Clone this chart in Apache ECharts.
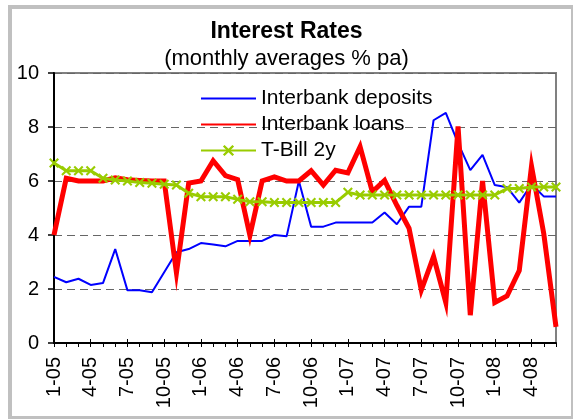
<!DOCTYPE html>
<html>
<head>
<meta charset="utf-8">
<title>Interest Rates</title>
<script src="https://cdn.jsdelivr.net/npm/echarts@6/dist/echarts.min.js"></script>
<style>
  html, body { margin: 0; padding: 0; background: #ffffff; }
  #chart { width: 573px; height: 419px; }
</style>
</head>
<body>
<div id="chart"></div>
<script>
// Monthly periods, January 2005 to June 2008
const months = [
  '1-05','2-05','3-05','4-05','5-05','6-05','7-05','8-05','9-05','10-05','11-05','12-05',
  '1-06','2-06','3-06','4-06','5-06','6-06','7-06','8-06','9-06','10-06','11-06','12-06',
  '1-07','2-07','3-07','4-07','5-07','6-07','7-07','8-07','9-07','10-07','11-07','12-07',
  '1-08','2-08','3-08','4-08','5-08','6-08'
];

// Monthly averages, % per annum
const interbankDeposits = [
  2.45, 2.25, 2.38, 2.15, 2.22, 3.48, 1.95, 1.95, 1.88, 2.62, 3.36, 3.48,
  3.70, 3.65, 3.58, 3.78, 3.78, 3.78, 4.00, 3.95, 6.00, 4.31, 4.31, 4.46,
  4.46, 4.46, 4.46, 4.83, 4.40, 5.05, 5.05, 8.25, 8.52, 7.40, 6.40, 6.97,
  5.85, 5.77, 5.20, 5.88, 5.43, 5.43
];

const interbankLoans = [
  4.00, 6.10, 6.00, 6.00, 6.00, 6.12, 6.05, 6.02, 6.00, 6.00, 2.60, 5.92,
  6.00, 6.75, 6.20, 6.05, 3.98, 6.00, 6.15, 6.00, 6.00, 6.38, 5.85, 6.40,
  6.30, 7.27, 5.60, 6.02, 5.10, 4.25, 1.96, 3.20, 1.50, 8.02, 1.03, 6.00,
  1.50, 1.74, 2.68, 6.55, 4.05, 0.60
];

const tBill2y = [
  6.67, 6.38, 6.38, 6.38, 6.10, 6.04, 6.00, 5.94, 5.92, 5.88, 5.85, 5.55,
  5.42, 5.42, 5.42, 5.32, 5.23, 5.23, 5.20, 5.20, 5.20, 5.20, 5.20, 5.20,
  5.58, 5.48, 5.48, 5.48, 5.48, 5.48, 5.48, 5.48, 5.48, 5.48, 5.48, 5.48,
  5.48, 5.72, 5.72, 5.78, 5.78, 5.78
];

const yTicks = [0, 2, 4, 6, 8, 10];

const FONT = "'Liberation Sans', Arial, Helvetica, sans-serif";
const crossMark = 'path://M0,1.5L1.5,0L5,3.5L8.5,0L10,1.5L6.5,5L10,8.5L8.5,10L5,6.5L1.5,10L0,8.5L3.5,5Z';

const chart = echarts.init(document.getElementById('chart'), null, { renderer: 'canvas' });

chart.setOption({
  animation: false,
  backgroundColor: 'transparent',
  textStyle: { fontFamily: FONT, color: '#000' },
  graphic: [
    { type: 'rect', z: -20, silent: true,
      shape: { x: 8, y: 5, width: 565, height: 414 },
      style: { fill: '#c0c0c0' } },
    { type: 'rect', z: -19, silent: true,
      shape: { x: 12, y: 9, width: 559, height: 407 },
      style: { fill: '#ffffff' } }
  ],
  title: [
    { text: 'Interest Rates', left: 'center', top: 15,
      textStyle: { fontFamily: FONT, fontSize: 23, fontWeight: 'bold', color: '#000', lineHeight: 24 } },
    { text: '(monthly averages % pa)', left: 'center', top: 42,
      textStyle: { fontFamily: FONT, fontSize: 22, fontWeight: 'normal', color: '#000', lineHeight: 24 } }
  ],
  legend: {
    orient: 'vertical',
    left: 195,
    top: 83,
    itemWidth: 55,
    itemHeight: 14,
    itemGap: 5,
    textStyle: { fontFamily: FONT, fontSize: 21, color: '#000', lineHeight: 21 },
    data: [
      { name: 'Interbank deposits', itemStyle: { opacity: 0 } },
      { name: 'Interbank loans', itemStyle: { opacity: 0 } },
      { name: 'T-Bill 2y' }
    ]
  },
  grid: {
    left: 54, right: 17, top: 73, bottom: 76,
    show: true, borderColor: '#808080', borderWidth: 2,
    backgroundColor: 'transparent'
  },
  xAxis: [
    {
      type: 'category',
      data: months,
      boundaryGap: false,
      axisLine: { lineStyle: { color: '#000', width: 2 } },
      axisTick: { interval: 0, length: 4, lineStyle: { color: '#000', width: 1 } },
      axisLabel: {
        interval: 2, rotate: 90, margin: 14,
        fontFamily: FONT, fontSize: 20, color: '#000'
      },
      splitLine: { show: false }
    },
    {
      type: 'category',
      data: months,
      boundaryGap: false,
      position: 'bottom',
      axisLine: { show: false },
      axisTick: { interval: 2, inside: true, length: 4, lineStyle: { color: '#000', width: 1 } },
      axisLabel: { show: false },
      splitLine: { show: false }
    }
  ],
  yAxis: {
    type: 'value',
    min: yTicks[0],
    max: yTicks[yTicks.length - 1],
    interval: 2,
    axisLine: { show: true, lineStyle: { color: '#000', width: 2 } },
    axisTick: { show: true, length: 6, lineStyle: { color: '#000', width: 1.5 } },
    axisLabel: { margin: 15, fontFamily: FONT, fontSize: 20, color: '#000' },
    splitLine: { show: true, lineStyle: { color: '#666', width: 1, type: [8, 5] } }
  },
  series: [
    {
      name: 'Interbank deposits',
      type: 'line',
      data: interbankDeposits,
      symbol: 'none',
      lineStyle: { color: '#0000ff', width: 2 },
      itemStyle: { color: '#0000ff' },
      z: 2
    },
    {
      name: 'Interbank loans',
      type: 'line',
      data: interbankLoans,
      symbol: 'none',
      lineStyle: { color: '#ff0000', width: 5, join: 'miter' },
      itemStyle: { color: '#ff0000' },
      z: 3
    },
    {
      name: 'T-Bill 2y',
      type: 'line',
      data: tBill2y,
      symbol: crossMark,
      symbolSize: 10,
      showAllSymbol: true,
      lineStyle: { color: '#99cc00', width: 3 },
      itemStyle: { color: '#99cc00' },
      z: 4
    }
  ]
});
</script>
</body>
</html>
